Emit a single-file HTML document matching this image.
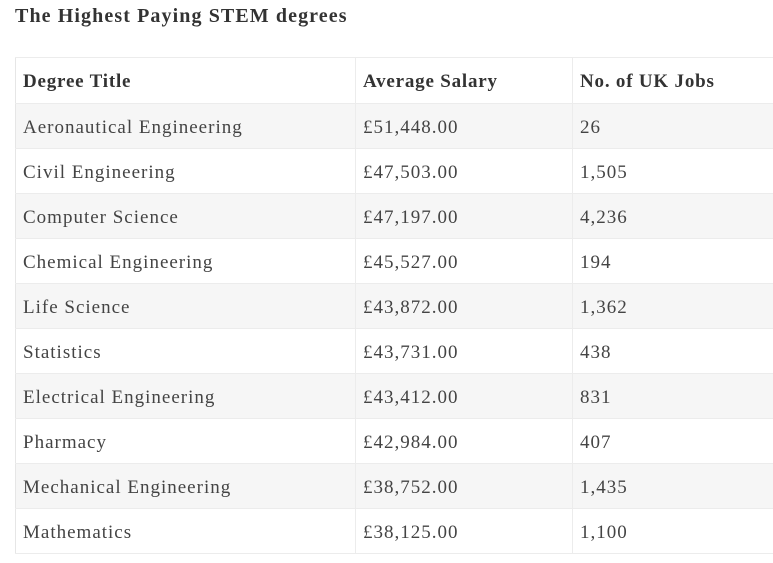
<!DOCTYPE html>
<html><head><meta charset="utf-8"><style>
body{margin:0;width:773px;height:563px;background:#fff;overflow:hidden;font-family:"Liberation Serif",serif;color:#444}
h1{position:absolute;left:15px;top:5px;margin:0;font-size:20px;font-weight:bold;color:#333;letter-spacing:1.1px}
table{position:absolute;left:15px;top:57px;border-collapse:collapse;width:780px}
td,th{height:45px;padding:3px 0 0 7px;box-sizing:border-box;text-align:left;font-size:19px;letter-spacing:1px;border:1px solid #ececec;border-left:1px solid #e6e6e6}
th{font-weight:bold;height:46px;color:#333;letter-spacing:0.8px}
tr.odd td{background:#f6f6f6}
col.c1{width:340px}col.c2{width:217px}
</style></head><body>
<h1>The Highest Paying STEM degrees</h1>
<table>
<colgroup><col class="c1"><col class="c2"><col></colgroup>
<tr><th>Degree Title</th><th>Average Salary</th><th>No. of UK Jobs</th></tr>
<tr class="odd"><td>Aeronautical Engineering</td><td>£51,448.00</td><td>26</td></tr>
<tr><td>Civil Engineering</td><td>£47,503.00</td><td>1,505</td></tr>
<tr class="odd"><td>Computer Science</td><td>£47,197.00</td><td>4,236</td></tr>
<tr><td>Chemical Engineering</td><td>£45,527.00</td><td>194</td></tr>
<tr class="odd"><td>Life Science</td><td>£43,872.00</td><td>1,362</td></tr>
<tr><td>Statistics</td><td>£43,731.00</td><td>438</td></tr>
<tr class="odd"><td>Electrical Engineering</td><td>£43,412.00</td><td>831</td></tr>
<tr><td>Pharmacy</td><td>£42,984.00</td><td>407</td></tr>
<tr class="odd"><td>Mechanical Engineering</td><td>£38,752.00</td><td>1,435</td></tr>
<tr><td>Mathematics</td><td>£38,125.00</td><td>1,100</td></tr>
</table>
</body></html>
